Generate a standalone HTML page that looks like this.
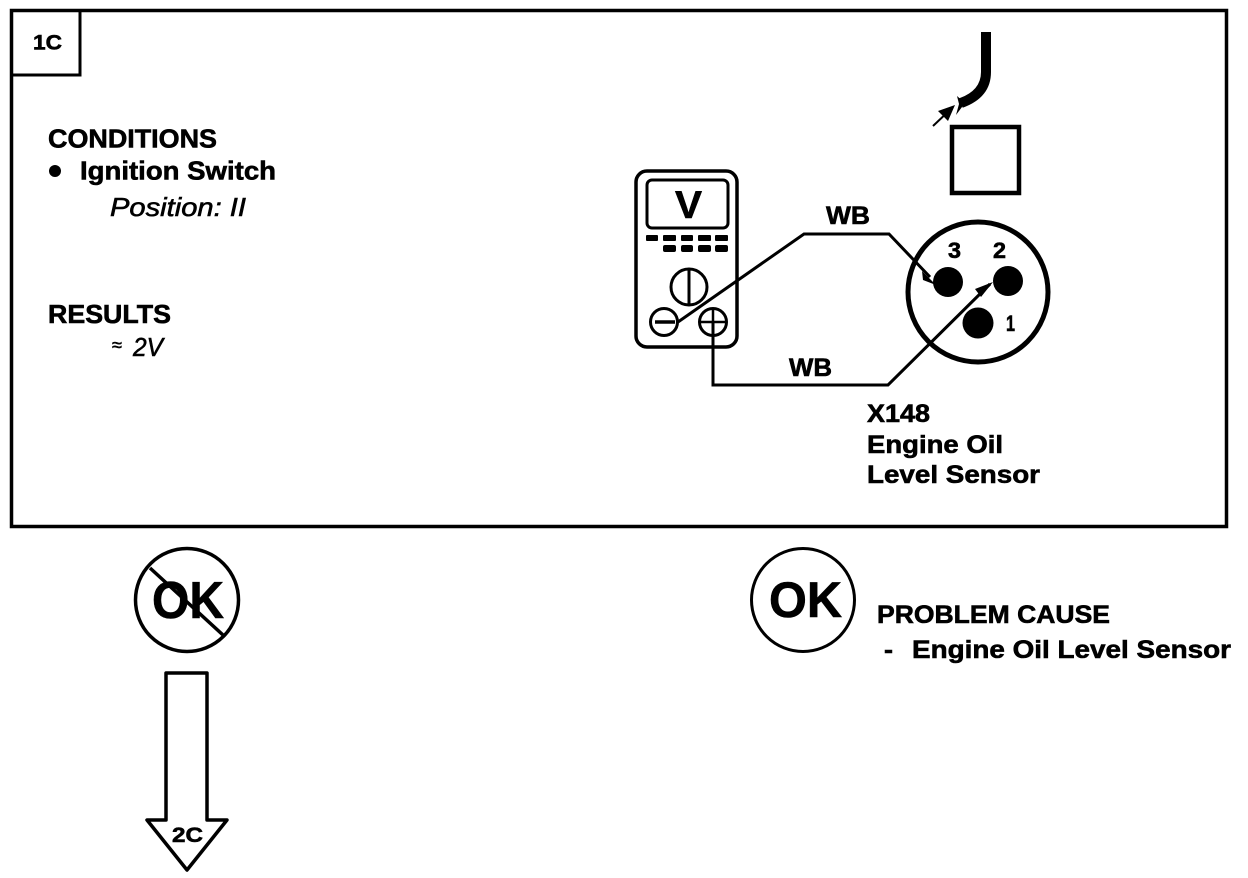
<!DOCTYPE html>
<html><head><meta charset="utf-8">
<style>
html,body{margin:0;padding:0;background:#fff;width:1248px;height:878px;overflow:hidden}
svg{display:block}
text{font-family:"Liberation Sans",sans-serif;font-weight:bold;fill:#000;stroke:#000;stroke-width:.6}
</style></head><body>
<svg width="1248" height="878" viewBox="0 0 1248 878" xmlns="http://www.w3.org/2000/svg">
<rect width="1248" height="878" fill="#fff"/>
<g fill="none" stroke="#000">
<rect x="11.5" y="10.5" width="1215" height="516" stroke-width="3.5"/>
<path d="M80 11V75H12" stroke-width="3"/>
<!-- meter -->
<rect x="636" y="171" width="101" height="176" rx="11" stroke-width="3.5"/>
<rect x="647" y="180" width="81" height="48" rx="5" stroke-width="3"/>
<circle cx="689" cy="287" r="18" stroke-width="3"/>
<path d="M689 269V305" stroke-width="3"/>
<circle cx="664" cy="322" r="13.5" stroke-width="3"/>
<path d="M655 322H675" stroke-width="3.5"/>
<circle cx="713" cy="322" r="13.5" stroke-width="3"/>
<path d="M699 322H727M713 308V336" stroke-width="2.5"/>
<!-- connector -->
<circle cx="978" cy="292" r="70" stroke-width="5"/>
<!-- wires -->
<path d="M678 322L804 234H889L930 277" stroke-width="3"/>
<path d="M713 322V385H888L990 284" stroke-width="3"/>
<!-- square & cable -->
<rect x="952" y="127" width="67" height="66" stroke-width="4.5"/>
<path d="M986 32V72Q986 94 961 103" stroke-width="10"/>
<path d="M933 126L952 108" stroke-width="2"/>
<!-- OK circles -->
<circle cx="803" cy="600" r="51.5" stroke-width="3"/>
<circle cx="187" cy="600" r="51.5" stroke-width="3.5"/>
<path d="M150 568L223 635" stroke-width="3.5"/>
<!-- arrow -->
<path d="M166 820V673H207V820H227L187 870L147 820Z" stroke-width="3.5" stroke-linejoin="round"/>
</g>
<g fill="#000">
<rect x="646" y="235" width="12" height="6" rx="1"/><rect x="663" y="235" width="13" height="6" rx="1"/><rect x="681" y="235" width="12" height="6" rx="1"/><rect x="698" y="235" width="13" height="6" rx="1"/><rect x="715" y="235" width="13" height="6" rx="1"/>
<rect x="663" y="245" width="13" height="7" rx="2"/><rect x="681" y="245" width="12" height="7" rx="2"/><rect x="698" y="245" width="13" height="7" rx="2"/><rect x="715" y="245" width="13" height="7" rx="2"/>
<circle cx="948" cy="282" r="15"/><circle cx="1008" cy="281" r="15"/><circle cx="978" cy="323" r="15.5"/>
<polygon points="922,271 936,285 923,280"/>
<polygon points="993,282 981,297 975,289"/>
<polygon points="955,105 948,121 938,111"/>
<polygon points="957,96 965,103 956,115 959,104"/>
<circle cx="55" cy="171" r="6"/>
</g>
<text x="33" y="49.5" font-size="21" textLength="29" lengthAdjust="spacingAndGlyphs">1C</text>
<text x="48" y="147.5" font-size="26" textLength="169" lengthAdjust="spacingAndGlyphs">CONDITIONS</text>
<text x="80" y="179.5" font-size="26" textLength="196" lengthAdjust="spacingAndGlyphs">Ignition Switch</text>
<text x="110" y="216" font-size="26" textLength="136" style="font-weight:normal;font-style:italic" lengthAdjust="spacingAndGlyphs">Position: II</text>
<text x="48" y="323" font-size="26" textLength="123" lengthAdjust="spacingAndGlyphs">RESULTS</text>
<text x="112" y="351" font-size="18" style="font-weight:normal">≈</text>
<text x="133" y="356" font-size="26" textLength="30" style="font-weight:normal;font-style:italic" lengthAdjust="spacingAndGlyphs">2V</text>
<text x="675" y="218" font-size="39" textLength="27" lengthAdjust="spacingAndGlyphs">V</text>
<text x="826" y="224" font-size="25" textLength="44" lengthAdjust="spacingAndGlyphs">WB</text>
<text x="789" y="376" font-size="25" textLength="43" lengthAdjust="spacingAndGlyphs">WB</text>
<text x="948" y="258" font-size="22" textLength="13" lengthAdjust="spacingAndGlyphs">3</text>
<text x="993" y="258" font-size="22" textLength="13" lengthAdjust="spacingAndGlyphs">2</text>
<text x="1006" y="331" font-size="22" textLength="9" lengthAdjust="spacingAndGlyphs">1</text>
<text x="867" y="422" font-size="25" textLength="63" lengthAdjust="spacingAndGlyphs">X148</text>
<text x="867" y="453" font-size="25" textLength="136" lengthAdjust="spacingAndGlyphs">Engine Oil</text>
<text x="867" y="483" font-size="25" textLength="173" lengthAdjust="spacingAndGlyphs">Level Sensor</text>
<text x="152" y="618" font-size="52" textLength="72" lengthAdjust="spacingAndGlyphs">OK</text>
<text x="769" y="617" font-size="50" textLength="73" lengthAdjust="spacingAndGlyphs">OK</text>
<text x="877" y="623" font-size="25" textLength="233" lengthAdjust="spacingAndGlyphs">PROBLEM CAUSE</text>
<text x="884" y="658" font-size="25" textLength="9" lengthAdjust="spacingAndGlyphs">-</text>
<text x="912" y="658" font-size="25" textLength="319" lengthAdjust="spacingAndGlyphs">Engine Oil Level Sensor</text>
<text x="172" y="842" font-size="21" textLength="31" lengthAdjust="spacingAndGlyphs">2C</text>
</svg>
</body></html>
